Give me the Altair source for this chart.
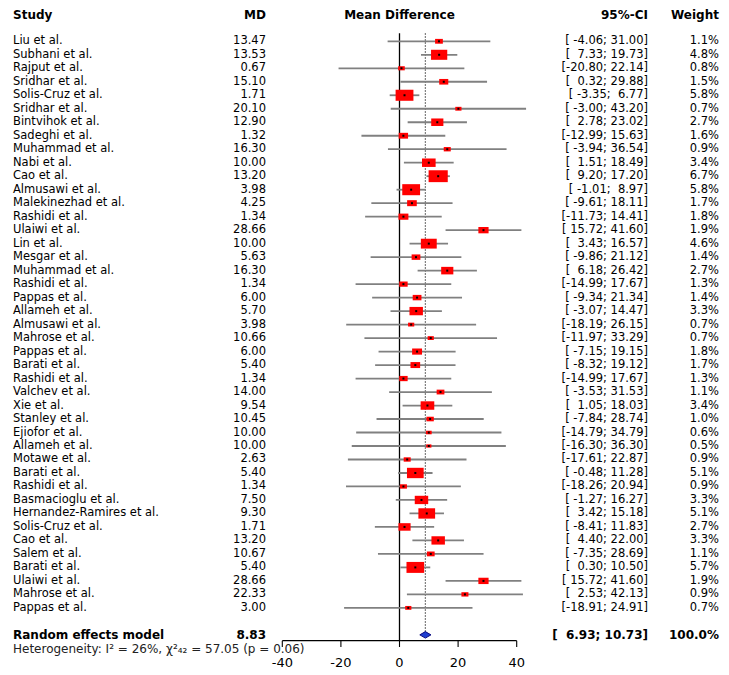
import altair as alt
import pandas as pd

studies = [
    "Liu et al.", "Subhani et al.", "Rajput et al.", "Sridhar et al.", "Solis-Cruz et al.",
    "Sridhar et al.", "Bintvihok et al.", "Sadeghi et al.", "Muhammad et al.", "Nabi et al.",
    "Cao et al.", "Almusawi et al.", "Malekinezhad et al.", "Rashidi et al.", "Ulaiwi et al.",
    "Lin et al.", "Mesgar et al.", "Muhammad et al.", "Rashidi et al.", "Pappas et al.",
    "Allameh et al.", "Almusawi et al.", "Mahrose et al.", "Pappas et al.", "Barati et al.",
    "Rashidi et al.", "Valchev et al.", "Xie et al.", "Stanley et al.", "Ejiofor et al.",
    "Allameh et al.", "Motawe et al.", "Barati et al.", "Rashidi et al.", "Basmacioglu et al.",
    "Hernandez-Ramires et al.", "Solis-Cruz et al.", "Cao et al.", "Salem et al.", "Barati et al.",
    "Ulaiwi et al.", "Mahrose et al.", "Pappas et al.",
]
md = [13.47, 13.53, 0.67, 15.10, 1.71, 20.10, 12.90, 1.32, 16.30, 10.00,
      13.20, 3.98, 4.25, 1.34, 28.66, 10.00, 5.63, 16.30, 1.34, 6.00,
      5.70, 3.98, 10.66, 6.00, 5.40, 1.34, 14.00, 9.54, 10.45, 10.00,
      10.00, 2.63, 5.40, 1.34, 7.50, 9.30, 1.71, 13.20, 10.67, 5.40,
      28.66, 22.33, 3.00]
ci_lower = [-4.06, 7.33, -20.80, 0.32, -3.35, -3.00, 2.78, -12.99, -3.94, 1.51,
            9.20, -1.01, -9.61, -11.73, 15.72, 3.43, -9.86, 6.18, -14.99, -9.34,
            -3.07, -18.19, -11.97, -7.15, -8.32, -14.99, -3.53, 1.05, -7.84, -14.79,
            -16.30, -17.61, -0.48, -18.26, -1.27, 3.42, -8.41, 4.40, -7.35, 0.30,
            15.72, 2.53, -18.91]
ci_upper = [31.00, 19.73, 22.14, 29.88, 6.77, 43.20, 23.02, 15.63, 36.54, 18.49,
            17.20, 8.97, 18.11, 14.41, 41.60, 16.57, 21.12, 26.42, 17.67, 21.34,
            14.47, 26.15, 33.29, 19.15, 19.12, 17.67, 31.53, 18.03, 28.74, 34.79,
            36.30, 22.87, 11.28, 20.94, 16.27, 15.18, 11.83, 22.00, 28.69, 10.50,
            41.60, 42.13, 24.91]
weight = [1.1, 4.8, 0.8, 1.5, 5.8, 0.7, 2.7, 1.6, 0.9, 3.4,
          6.7, 5.8, 1.7, 1.8, 1.9, 4.6, 1.4, 2.7, 1.3, 1.4,
          3.3, 0.7, 0.7, 1.8, 1.7, 1.3, 1.1, 3.4, 1.0, 0.6,
          0.5, 0.9, 5.1, 0.9, 3.3, 5.1, 2.7, 3.3, 1.1, 5.7,
          1.9, 0.9, 0.7]
pooled_label = "Random effects model"
pooled_md = 8.83
pooled_lower = 6.93
pooled_upper = 10.73
pooled_weight = 100.0
ticks = [-40, -20, 0, 20, 40]
heterogeneity = "Heterogeneity: I\u00b2 = 26%, \u03c7\u00b2\u2084\u2082 = 57.05 (p = 0.06)"
headers = ["Study", "MD", "Mean Difference", "95%-CI", "Weight"]

FONT = "DejaVu Sans"
FS = 11.5
NB = "\u00a0"


def fmt_ci(lo, hi):
    return "[" + f"{lo:6.2f}".replace(" ", NB) + "; " + f"{hi:5.2f}".replace(" ", NB) + "]"


n = len(studies)
df = pd.DataFrame({"row": list(range(n)), "study": studies, "md": md,
                   "lo": ci_lower, "hi": ci_upper, "w": weight})
df["md_t"] = [f"{v:.2f}" for v in md]
df["ci_t"] = [fmt_ci(a, b) for a, b in zip(ci_lower, ci_upper)]
df["w_t"] = [f"{v:.1f}%" for v in weight]

pooled_row = n + 1
pool_df = pd.DataFrame({"row": [pooled_row], "label": [pooled_label],
                        "md_t": [f"{pooled_md:.2f}"],
                        "ci_t": [fmt_ci(pooled_lower, pooled_upper)],
                        "w_t": [f"{pooled_weight:.1f}%"]})

W, H = 713, 667
X0, PX = 391.5, 2.93
Y0, PY = 33.3, 13.49
xs = alt.Scale(domain=[-X0 / PX, (W - X0) / PX], nice=False, zero=False)
ys = alt.Scale(domain=[-Y0 / PY, (H - Y0) / PY], nice=False, zero=False, reverse=True)

TOP = -0.6
AXIS_Y = pooled_row + 0.43
TICK_END = pooled_row + 0.9
TICK_LAB = pooled_row + 2.1
HEAD_Y = -1.95


def X(f):
    return alt.X(f, scale=xs, axis=None)


def Y(f):
    return alt.Y(f, scale=ys, axis=None)


# vertical reference lines
zero_df = pd.DataFrame({"x": [0], "y": [TOP], "y2": [AXIS_Y]})
zero_line = alt.Chart(zero_df).mark_rule(color="black", strokeWidth=1.3).encode(
    x=X("x:Q"), y=Y("y:Q"), y2="y2:Q")

pool_line_df = pd.DataFrame({"x": [pooled_md], "y": [TOP], "y2": [pooled_row - 0.2]})
pool_line = alt.Chart(pool_line_df).mark_rule(
    color="#555555", strokeWidth=1.2, strokeDash=[1.5, 1.5]).encode(
    x=X("x:Q"), y=Y("y:Q"), y2="y2:Q")

ci_lines = alt.Chart(df).mark_rule(color="#808080", strokeWidth=1.8).encode(
    x=X("lo:Q"), x2="hi:Q", y=Y("row:Q"))

box_path = "M-1,-0.62 L1,-0.62 L1,0.62 L-1,0.62 Z"
boxes = alt.Chart(df).mark_point(shape=box_path, filled=True, color="#ff0000",
                                 opacity=1, strokeWidth=0).encode(
    x=X("md:Q"), y=Y("row:Q"),
    size=alt.Size("w:Q", scale=alt.Scale(domain=[0, 10], range=[0, 548]), legend=None))

dots = alt.Chart(df).mark_point(shape="square", filled=True, color="black",
                                opacity=1, size=4).encode(x=X("md:Q"), y=Y("row:Q"))

# pooled diamond
dia_df = pd.DataFrame({"x": [pooled_lower, pooled_md, pooled_upper],
                       "y": [pooled_row, pooled_row - 0.24, pooled_row],
                       "y2": [pooled_row, pooled_row + 0.24, pooled_row]})
diamond = alt.Chart(dia_df).mark_area(color="#1f3fd0", stroke="#0a0a80",
                                      strokeWidth=1, opacity=1).encode(
    x=X("x:Q"), y=Y("y:Q"), y2="y2:Q")

# manual x axis
axis_df = pd.DataFrame({"x": [ticks[0]], "x2": [ticks[-1]], "y": [AXIS_Y]})
axis_line = alt.Chart(axis_df).mark_rule(color="black", strokeWidth=1.1).encode(
    x=X("x:Q"), x2="x2:Q", y=Y("y:Q"))
tick_df = pd.DataFrame({"t": ticks, "y": [AXIS_Y] * len(ticks), "y2": [TICK_END] * len(ticks),
                        "ly": [TICK_LAB] * len(ticks), "lab": [str(t) for t in ticks]})
tick_marks = alt.Chart(tick_df).mark_rule(color="black", strokeWidth=1.1).encode(
    x=X("t:Q"), y=Y("y:Q"), y2="y2:Q")
tick_labels = alt.Chart(tick_df).mark_text(font=FONT, fontSize=13, color="black",
                                           baseline="middle", align="center").encode(
    x=X("t:Q"), y=Y("ly:Q"), text="lab:N")


def col(data, field, px, align, bold=False, fs=FS):
    return alt.Chart(data).mark_text(font=FONT, fontSize=fs, color="black", align=align,
                                     baseline="middle",
                                     fontWeight="bold" if bold else "normal").encode(
        x=alt.value(px), y=Y("row:Q"), text=f"{field}:N")


study_txt = col(df, "study", 5, "left")
md_txt = col(df, "md_t", 258, "right")
ci_txt = col(df, "ci_t", 640, "right")
w_txt = col(df, "w_t", 711, "right")

pool_lab = col(pool_df, "label", 5, "left", True, 12)
pool_md_t = col(pool_df, "md_t", 258, "right", True, 12)
pool_ci_t = col(pool_df, "ci_t", 640, "right", True, 12)
pool_w_t = col(pool_df, "w_t", 711, "right", True, 12)

head_df = pd.DataFrame({"row": [HEAD_Y] * len(headers), "h": headers})


def head(i, px, align):
    return alt.Chart(head_df.iloc[[i]]).mark_text(font=FONT, fontSize=12, fontWeight="bold",
                                                  color="black", align=align,
                                                  baseline="middle").encode(
        x=alt.value(px), y=Y("row:Q"), text="h:N")


h_study = head(0, 5, "left")
h_md = head(1, 258, "right")
h_mean = head(2, X0, "center")
h_ci = head(3, 640, "right")
h_w = head(4, 711, "right")

het_df = pd.DataFrame({"row": [pooled_row + 1.07], "t": [heterogeneity]})
het = alt.Chart(het_df).mark_text(font=FONT, fontSize=12, color="#222222", align="left",
                                  baseline="middle").encode(
    x=alt.value(5), y=Y("row:Q"), text="t:N")

chart = alt.layer(
    zero_line, pool_line, ci_lines, boxes, dots, diamond,
    axis_line, tick_marks, tick_labels,
    study_txt, md_txt, ci_txt, w_txt,
    pool_lab, pool_md_t, pool_ci_t, pool_w_t,
    h_study, h_md, h_mean, h_ci, h_w, het,
).properties(
    width=W, height=H, padding=0,
    autosize=alt.AutoSizeParams(type="none"),
).configure_view(stroke=None)

chart.save("out.html", embed_options={"renderer": "svg", "actions": False})
